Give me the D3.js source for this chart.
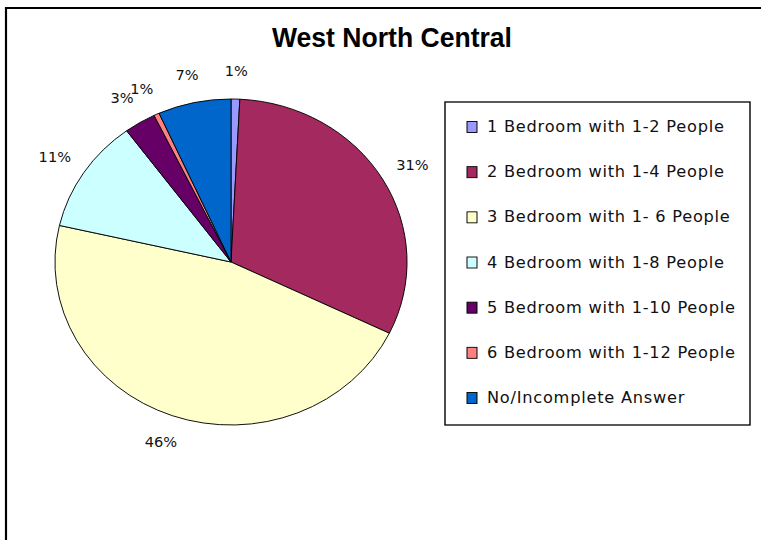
<!DOCTYPE html>
<html>
<head>
<meta charset="utf-8">
<script src="https://cdn.jsdelivr.net/npm/d3@7"></script>
<style>
  body { margin: 0; background: #fff; }
  text { font-family: "Comic Sans MS", "DejaVu Sans", sans-serif; }
</style>
</head>
<body>
<script>
let w = 761;
let h = 540;

// data
let categories = [
  "1 Bedroom with 1-2 People",
  "2 Bedroom with 1-4 People",
  "3 Bedroom with 1- 6 People",
  "4 Bedroom with 1-8 People",
  "5 Bedroom with 1-10 People",
  "6 Bedroom with 1-12 People",
  "No/Incomplete Answer"
];
let values = [0.8, 31.4, 46.4, 11.3, 2.9, 0.5, 6.7];
let colors = ["#9999ff", "#a3295e", "#ffffcc", "#ccffff", "#660066", "#ff8080", "#0066cc"];

// the original picture is stretched a bit sideways
let sx = 1.08;

let svg = d3.select("body").append("svg").attr("width", w).attr("height", h);
let g = svg.append("g").attr("transform", "scale(" + sx + ",1)");

// outer frame (runs off the right and bottom)
g.append("rect")
  .attr("x", 6 / sx)
  .attr("y", 8)
  .attr("width", 900)
  .attr("height", 700)
  .attr("fill", "none")
  .attr("stroke", "#000")
  .attr("stroke-width", 2);

svg
  .append("text")
  .attr("x", 392)
  .attr("y", 47)
  .attr("text-anchor", "middle")
  .attr("textLength", 240)
  .attr("lengthAdjust", "spacingAndGlyphs")
  .style("font-family", "'Liberation Sans', Arial, sans-serif")
  .style("font-weight", "bold")
  .style("font-size", "27px")
  .text("West North Central");

let cx = 231 / sx;
let cy = 262;
let r = 163;

let pie = d3.pie().sort(null).value((d) => d);
let arcs = pie(values);
let arc = d3.arc().innerRadius(0).outerRadius(r);

let pieG = g.append("g").attr("transform", "translate(" + cx + "," + cy + ")");

pieG
  .selectAll("path")
  .data(arcs)
  .enter()
  .append("path")
  .attr("d", arc)
  .attr("fill", (d, i) => colors[i])
  .attr("stroke", "#000")
  .attr("stroke-width", 0.9);

let k = 1.13;
pieG
  .selectAll("text.pct")
  .data(arcs)
  .enter()
  .append("text")
  .attr("class", "pct")
  .attr("x", (d) => {
    let a = (d.startAngle + d.endAngle) / 2;
    return Math.sin(a) * (r * k + 11);
  })
  .attr("y", (d) => {
    let a = (d.startAngle + d.endAngle) / 2;
    return -Math.cos(a) * (r * k + 7) + 5;
  })
  .attr("text-anchor", "middle")
  .style("font-size", "13.5px")
  .attr("fill", "#111")
  .text((d) => Math.round(d.value) + "%");

// legend
let lx = 445 / sx;
let ly = 102;
g.append("rect")
  .attr("x", lx)
  .attr("y", ly)
  .attr("width", (750 - 445) / sx)
  .attr("height", 323)
  .attr("fill", "#fff")
  .attr("stroke", "#000")
  .attr("stroke-width", 1.3);

let legY = d3.scalePoint().domain(categories).range([127, 398]);

let items = g
  .selectAll("g.leg")
  .data(categories)
  .enter()
  .append("g")
  .attr("class", "leg")
  .attr("transform", (d) => "translate(0," + legY(d) + ")");

items
  .append("rect")
  .attr("x", 467 / sx)
  .attr("y", -5.5)
  .attr("width", 10 / sx)
  .attr("height", 11)
  .attr("fill", (d, i) => colors[i])
  .attr("stroke", "#000")
  .attr("stroke-width", 0.9);

items
  .append("text")
  .attr("x", 487 / sx)
  .attr("y", 5)
  .style("font-size", "15px")
  .style("letter-spacing", "0.7px")
  .attr("fill", "#111")
  .text((d) => d);
</script>
</body>
</html>
